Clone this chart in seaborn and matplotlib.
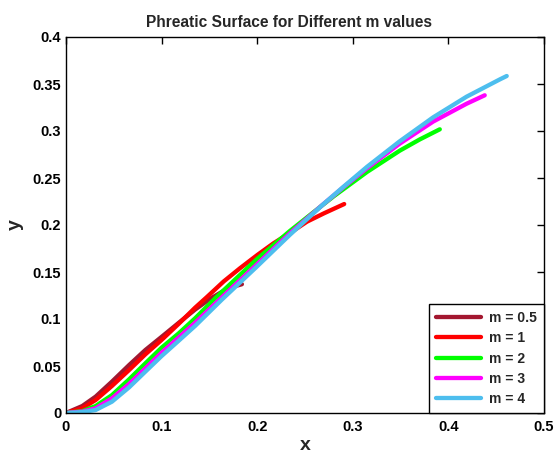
import numpy as np
import pandas as pd
import matplotlib
matplotlib.use("Agg")
import matplotlib.pyplot as plt
import seaborn as sns
from matplotlib.lines import Line2D

# ---- data ----
labels = ["m = 0.5", "m = 1", "m = 2", "m = 3", "m = 4"]
colors = ["#A3172F", "#FF0000", "#00FF00", "#FF00FF", "#4DBEEE"]

x_m05 = [0, 0.017, 0.031, 0.048, 0.066, 0.083, 0.100, 0.118, 0.135, 0.150, 0.165, 0.177, 0.184]
y_m05 = [0, 0.0074, 0.0174, 0.0333, 0.051, 0.067, 0.081, 0.096, 0.110, 0.121, 0.130, 0.135, 0.137]

x_m1 = [0, 0.017, 0.031, 0.048, 0.066, 0.083, 0.100, 0.118, 0.135, 0.147, 0.165, 0.182,
        0.200, 0.217, 0.235, 0.252, 0.270, 0.291]
y_m1 = [0, 0.005, 0.0138, 0.0287, 0.0457, 0.0624, 0.0777, 0.095, 0.112, 0.123, 0.140, 0.154,
        0.168, 0.1805, 0.192, 0.2035, 0.2125, 0.2223]

x_m2 = [0, 0.017, 0.031, 0.048, 0.066, 0.083, 0.100, 0.118, 0.135, 0.156, 0.180, 0.1995,
        0.234, 0.260, 0.280, 0.315, 0.349, 0.370, 0.391]
y_m2 = [0, 0.002, 0.0074, 0.019, 0.0358, 0.0528, 0.0695, 0.0848, 0.1007, 0.122, 0.145, 0.1635,
        0.1935, 0.2145, 0.2305, 0.2565, 0.279, 0.291, 0.3018]

x_m3 = [0, 0.017, 0.031, 0.048, 0.066, 0.083, 0.100, 0.118, 0.135, 0.165, 0.1995, 0.234,
        0.269, 0.290, 0.315, 0.349, 0.384, 0.419, 0.438]
y_m3 = [0, 0.0015, 0.005, 0.0156, 0.0309, 0.0475, 0.0642, 0.0805, 0.096, 0.125, 0.158, 0.191,
        0.222, 0.240, 0.2605, 0.2865, 0.310, 0.329, 0.338]

x_m4 = [0, 0.017, 0.031, 0.048, 0.066, 0.083, 0.100, 0.118, 0.135, 0.163, 0.1995, 0.234,
        0.269, 0.290, 0.315, 0.349, 0.384, 0.419, 0.454, 0.461]
y_m4 = [0, 0.001, 0.0032, 0.012, 0.0273, 0.044, 0.0606, 0.077, 0.0926, 0.1206, 0.1556, 0.1894,
        0.222, 0.2405, 0.262, 0.289, 0.3145, 0.3365, 0.355, 0.3585]

x_ticks = [0, 0.1, 0.2, 0.3, 0.4, 0.5]
y_ticks = [0, 0.05, 0.1, 0.15, 0.2, 0.25, 0.3, 0.35, 0.4]
x_tick_labels = ["0", "0.1", "0.2", "0.3", "0.4", "0.5"]
y_tick_labels = ["0", "0.05", "0.1", "0.15", "0.2", "0.25", "0.3", "0.35", "0.4"]

xs = [x_m05, x_m1, x_m2, x_m3, x_m4]
ys = [y_m05, y_m1, y_m2, y_m3, y_m4]

frames = []
for lab, xv, yv in zip(labels, xs, ys):
    frames.append(pd.DataFrame({"x": xv, "y": yv, "m": lab}))
df = pd.concat(frames, ignore_index=True)

# ---- styling ----
sns.set_style("white")
plt.rcParams["font.family"] = ["Liberation Sans", "DejaVu Sans"]
plt.rcParams["font.weight"] = "bold"

fig = plt.figure(figsize=(5.56, 4.57), dpi=100)
ax = fig.add_axes([66 / 556, 1 - 413 / 457, (544 - 66) / 556, (413 - 37) / 457])

sns.lineplot(data=df, x="x", y="y", hue="m", hue_order=labels, palette=colors,
             sort=False, estimator=None, units="m", linewidth=3.1, ax=ax, legend=False)

ax.set_xlim(0, 0.5)
ax.set_ylim(0, 0.4)
ax.set_xticks(x_ticks)
ax.set_xticklabels(x_tick_labels, fontsize=10.5, fontweight="bold")
ax.set_yticks(y_ticks)
ax.set_yticklabels(y_tick_labels, fontsize=10.5, fontweight="bold")
ax.tick_params(axis="y", direction="in", length=5, width=1, right=True,
               colors="black", pad=3.5)
ax.tick_params(axis="x", direction="in", length=5, width=1, top=True,
               colors="black", pad=5)
for sp in ax.spines.values():
    sp.set_visible(True)
    sp.set_color("black")
    sp.set_linewidth(1.0)

ax.set_xlabel("x", fontsize=14, fontweight="bold", labelpad=2)
ax.set_ylabel("y", fontsize=14, fontweight="bold", labelpad=6)
ax.set_title("Phreatic Surface for Different m values", fontsize=11.2,
             fontweight="bold", pad=7, x=0.4665)

handles = [Line2D([0], [0], color=c, lw=3.1) for c in colors]
leg = ax.legend(handles, labels, loc="lower right", borderaxespad=0,
                prop={"weight": "bold", "size": 10}, handlelength=3.2,
                labelspacing=0.45, handletextpad=0.6, borderpad=0.5,
                fancybox=False, framealpha=1, edgecolor="black")
leg.get_frame().set_linewidth(1.0)

fig.savefig("out.png", dpi=100)
